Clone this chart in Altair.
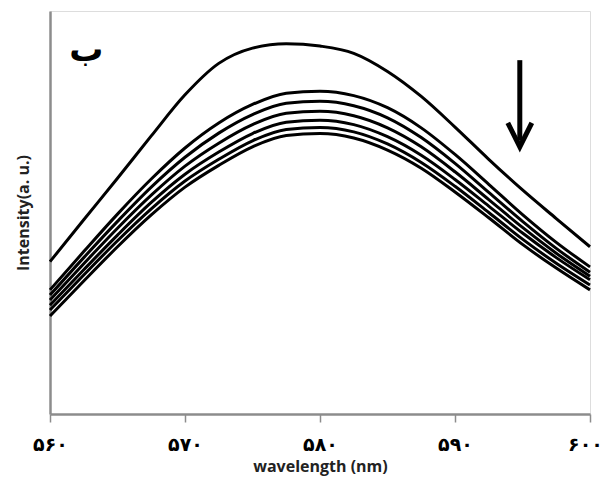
import altair as alt
import pandas as pd

# ---- data ----
wavelengths = [560, 562.5, 565, 567.5, 570, 572.5, 575, 577.5, 580, 582.5,
               585, 587.5, 590, 592.5, 595, 597.5, 600]
s1 = [37.8, 48.2, 58.5, 69.0, 79.2, 87.0, 90.8, 91.9, 91.3, 89.5, 85.0, 78.8, 71.2, 63.2, 55.6, 48.5, 41.5]
s2 = [30.8, 40.3, 49.6, 58.3, 66.0, 72.2, 76.8, 79.6, 80.1, 79.0, 76.0, 71.0, 64.4, 57.0, 49.5, 42.6, 36.5]
s3 = [29.5, 38.8, 47.8, 56.3, 63.7, 69.7, 74.3, 77.1, 77.6, 76.5, 73.5, 68.6, 62.2, 55.0, 47.8, 41.1, 35.2]
s4 = [28.3, 37.3, 46.1, 54.3, 61.5, 67.2, 71.8, 74.6, 75.1, 74.0, 71.0, 66.3, 60.1, 53.2, 46.3, 39.9, 34.2]
s5 = [27.0, 35.8, 44.4, 52.5, 59.5, 65.0, 69.6, 72.4, 72.9, 71.8, 68.8, 64.2, 58.2, 51.6, 44.9, 38.8, 33.3]
s6 = [25.8, 34.5, 43.0, 50.9, 57.8, 63.2, 67.8, 70.6, 71.1, 70.0, 67.0, 62.4, 56.5, 50.0, 43.4, 37.4, 32.0]
s7 = [24.3, 33.0, 41.5, 49.4, 56.3, 61.7, 66.3, 69.1, 69.6, 68.5, 65.5, 61.0, 55.1, 48.7, 42.1, 36.2, 30.8]
series = [s1, s2, s3, s4, s5, s6, s7]

tick_values = [560, 570, 580, 590, 600]
tick_labels = ["۵۶۰", "۵۷۰", "۵۸۰", "۵۹۰", "۶۰۰"]

panel_label = "ب"
panel_label_pos = [562.7, 90.0]          # wavelength, intensity
arrow_x = 594.8
arrow_top = 87.8
arrow_tip = 66.3

rows = []
for i, vals in enumerate(series):
    for w, v in zip(wavelengths, vals):
        rows.append({"series": f"s{i+1}", "wavelength": w, "intensity": v})
df = pd.DataFrame(rows)

label_expr = " : ".join(f"datum.value == {v} ? '{l}'" for v, l in zip(tick_values, tick_labels)) + " : ''"
last_tick_test = f"datum.value == {tick_values[-1]}"

x_scale = alt.Scale(domain=[560, 600], nice=False, zero=False)
y_scale = alt.Scale(domain=[0, 100], nice=False, zero=False)

lines = alt.Chart(df).mark_line(color="black", strokeWidth=3, interpolate="monotone").encode(
    x=alt.X("wavelength:Q", scale=x_scale,
            axis=alt.Axis(values=tick_values, labelExpr=label_expr, title="wavelength (nm)",
                          domainColor="#8c8c8c", domainWidth=2.5, tickColor="#8c8c8c",
                          tickWidth=1.5, tickSize=8, grid=False, labelFlush=False,
                          labelOverlap=False,
                          labelOffset={"condition": {"test": last_tick_test, "value": -5}, "value": 0},
                          labelFont="DejaVu Sans", labelFontSize=19, labelFontWeight="bold",
                          labelColor="black", labelPadding=13,
                          titleFont="Open Sans", titleFontSize=16, titleFontWeight="bold",
                          titleColor="#222222", titlePadding=4)),
    y=alt.Y("intensity:Q", scale=y_scale,
            axis=alt.Axis(labels=False, ticks=False, grid=False, title="Intensity(a. u.)",
                          domainColor="#8c8c8c", domainWidth=2.5,
                          titleFont="Open Sans", titleFontSize=16, titleFontWeight="bold",
                          titleColor="#222222", titlePadding=19)),
    detail="series:N",
)

ann = pd.DataFrame({"x": [panel_label_pos[0]], "y": [panel_label_pos[1]], "t": [panel_label]})
letter = alt.Chart(ann).mark_text(font="DejaVu Sans", fontSize=34, fontWeight="bold", color="black").encode(
    x=alt.X("x:Q", scale=x_scale), y=alt.Y("y:Q", scale=y_scale), text="t:N")

arr = pd.DataFrame({"x": [arrow_x], "y1": [arrow_top], "y2": [arrow_tip + 1.5], "tip": [arrow_tip]})
shaft = alt.Chart(arr).mark_rule(color="black", strokeWidth=5).encode(
    x=alt.X("x:Q", scale=x_scale), y=alt.Y("y1:Q", scale=y_scale), y2="y2:Q")
head = alt.Chart(arr).mark_point(shape="M -1 -2 L 0 0 L 1 -2", size=576, filled=False,
                                 color="black", strokeWidth=5, opacity=1).encode(
    x=alt.X("x:Q", scale=x_scale), y=alt.Y("tip:Q", scale=y_scale))

chart = alt.layer(lines, letter, shaft, head).properties(
    width=540, height=403,
    autosize=alt.AutoSizeParams(type="none"),
    padding={"left": 42, "top": 3, "right": 13, "bottom": 65},
).configure_view(stroke="black", strokeWidth=1.5).configure(background="white")

chart.save("out.html", embed_options={"renderer": "svg", "actions": False})
